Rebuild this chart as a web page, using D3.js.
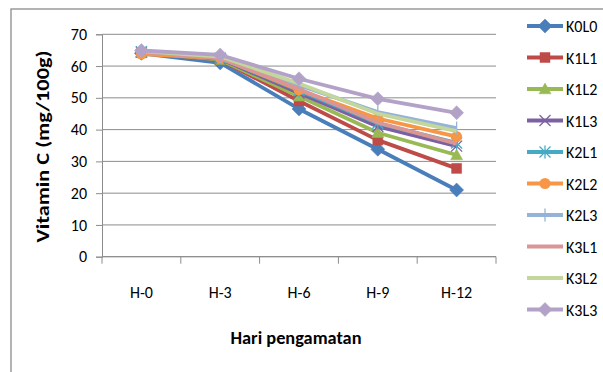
<!DOCTYPE html>
<html><head><meta charset="utf-8">
<script src="https://cdn.jsdelivr.net/npm/d3@7"></script>
<style>body{margin:0;background:#fff}svg{display:block}text{font-family:Carlito,Lato,"Open Sans",sans-serif}</style>
</head><body><svg id="c" width="603" height="372"></svg>
<script>
const categories = ["H-0","H-3","H-6","H-9","H-12"];
const seriesNames = ["K0L0","K1L1","K1L2","K1L3","K2L1","K2L2","K2L3","K3L1","K3L2","K3L3"];
const K0L0 = [64.0, 61.0, 46.5, 33.8, 21.0];
const K1L1 = [64.2, 62.0, 49.0, 36.7, 27.8];
const K1L2 = [64.3, 62.0, 50.5, 39.0, 32.0];
const K1L3 = [64.4, 62.3, 51.5, 41.0, 34.8];
const K2L1 = [64.5, 62.5, 52.3, 42.0, 35.8];
const K2L2 = [63.8, 62.5, 52.5, 43.5, 37.8];
const K2L3 = [64.6, 63.0, 54.0, 45.5, 40.5];
const K3L1 = [64.5, 62.5, 52.8, 42.2, 35.6];
const K3L2 = [64.7, 63.0, 54.5, 45.0, 39.5];
const K3L3 = [64.9, 63.5, 56.0, 49.7, 45.3];
const yTicks = [0,10,20,30,40,50,60,70];
const colors = ["#4A7EBB","#BE4B48","#98B954","#7D60A0","#46AAC5","#F79646","#95B3D7","#D99694","#C3D69B","#B3A2C7"];
const markers = ["diamond","square","triangle","x","star","circle","plus","none","none","diamond"];
const values = [K0L0,K1L1,K1L2,K1L3,K2L1,K2L2,K2L3,K3L1,K3L2,K3L3];

const svg = d3.select("#c");
svg.append("rect").attr("x",11).attr("y",9).attr("width",620).attr("height",400)
  .attr("fill","none").attr("stroke","#8c8c8c").attr("stroke-width",1.3);

const L=102, R=496, T=34.3, B=256.7;
const x = d3.scaleBand().domain(categories).range([L,R]);
const y = d3.scaleLinear().domain([0,70]).range([B,T]);

svg.append("g").selectAll("line").data(yTicks).join("line")
  .attr("x1",L).attr("x2",R).attr("y1",d=>y(d)).attr("y2",d=>y(d))
  .attr("stroke","#8c8c8c").attr("stroke-width",1);

const ya = svg.append("g").attr("transform",`translate(${L},0)`)
  .call(d3.axisLeft(y).tickValues(yTicks).tickSize(6).tickPadding(9));
ya.select(".domain").attr("stroke","#8c8c8c");
ya.selectAll(".tick line").attr("stroke","#8c8c8c");
ya.selectAll("text").attr("font-size",16).attr("fill","#000");

const xa = svg.append("g").attr("transform",`translate(0,${B})`)
  .call(d3.axisBottom(x).tickSize(0).tickPadding(30));
xa.select(".domain").remove();
xa.selectAll("text").attr("font-size",16).attr("fill","#000");
const bounds = categories.map(c=>x(c)).concat([x(categories[categories.length-1])+x.bandwidth()]);
svg.append("g").selectAll("line").data(bounds).join("line")
  .attr("x1",d=>d).attr("x2",d=>d).attr("y1",B).attr("y2",B+7)
  .attr("stroke","#8c8c8c");
svg.append("line").attr("x1",L).attr("x2",R).attr("y1",B).attr("y2",B).attr("stroke","#8c8c8c");

svg.append("text").attr("x",296).attr("y",344).attr("text-anchor","middle")
  .attr("font-size",18).attr("font-weight","bold")
  .attr("textLength",131).attr("lengthAdjust","spacingAndGlyphs").text("Hari pengamatan");
svg.append("text").attr("transform","translate(49,146.5) rotate(-90)").attr("text-anchor","middle")
  .attr("font-size",19).attr("font-weight","bold")
  .attr("textLength",192).attr("lengthAdjust","spacingAndGlyphs").text("Vitamin C (mg/100g)");

function drawMarker(g, type, color, cx, cy){
  let d = null;
  if (type==="diamond") { const r=7; d=`M${cx},${cy-r}L${cx+r},${cy}L${cx},${cy+r}L${cx-r},${cy}Z`; }
  else if (type==="square") { const r=5; d=`M${cx-r},${cy-r}h${2*r}v${2*r}h${-2*r}Z`; }
  else if (type==="triangle") { const r=6; d=`M${cx},${cy-r}L${cx+r},${cy+r*0.8}L${cx-r},${cy+r*0.8}Z`; }
  else if (type==="circle") { g.append("circle").attr("cx",cx).attr("cy",cy).attr("r",5.5).attr("fill",color); return; }
  if (d) { g.append("path").attr("d",d).attr("fill",color).attr("stroke",color).attr("stroke-width",0.5); return; }
  if (type==="x"||type==="star"||type==="plus") {
    const r=5.5, segs=[];
    if(type==="x"||type==="star"){segs.push([-r,-r,r,r],[-r,r,r,-r]);}
    if(type==="star"||type==="plus"){segs.push([0,-r-1,0,r+1]);}
    segs.forEach(q=>g.append("line").attr("x1",cx+q[0]).attr("y1",cy+q[1]).attr("x2",cx+q[2]).attr("y2",cy+q[3])
      .attr("stroke",color).attr("stroke-width",1.3));
  }
}

const line = d3.line().x((d,i)=>x(categories[i])+x.bandwidth()/2).y(d=>y(d));
const plot = svg.append("g");
values.forEach((vals,k)=>{
  const g = plot.append("g");
  g.append("path").datum(vals).attr("d",line).attr("fill","none")
    .attr("stroke",colors[k]).attr("stroke-width",3.8).attr("stroke-linejoin","round");
  vals.forEach((v,i)=>drawMarker(g,markers[k],colors[k],x(categories[i])+x.bandwidth()/2,y(v)));
});

const lg = svg.append("g");
seriesNames.forEach((n,k)=>{
  const yy = 26 + k*31.5;
  lg.append("line").attr("x1",527).attr("x2",563).attr("y1",yy).attr("y2",yy)
    .attr("stroke",colors[k]).attr("stroke-width",3.8);
  drawMarker(lg,markers[k],colors[k],545,yy);
  lg.append("text").attr("x",566).attr("y",yy+6).attr("font-size",16).text(n);
});
</script></body></html>
